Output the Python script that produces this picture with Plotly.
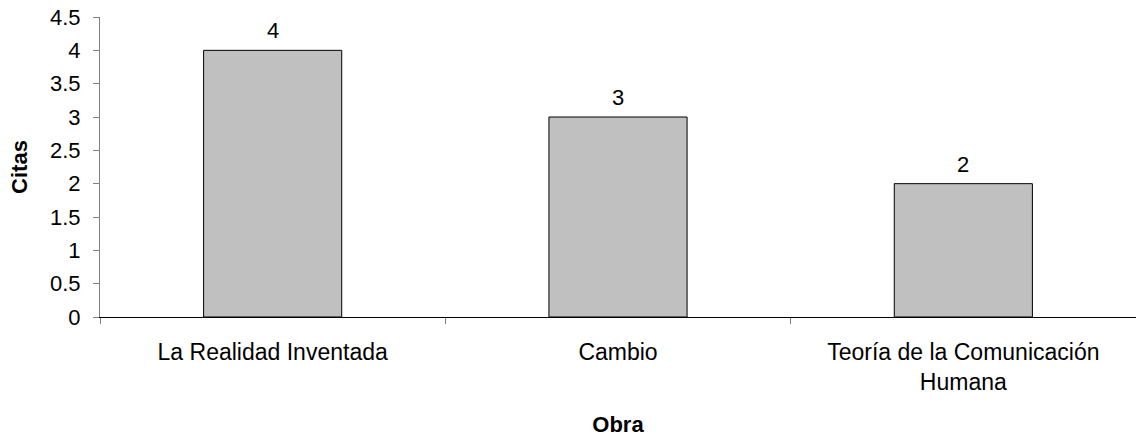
import plotly.graph_objects as go

categories = ["La Realidad Inventada", "Cambio", "Teoría de la Comunicación<br>Humana"]
values = [4, 3, 2]
y_ticks = [0, 0.5, 1, 1.5, 2, 2.5, 3, 3.5, 4, 4.5]

FONT = "Liberation Sans, Arial, sans-serif"
FS = 22

fig = go.Figure()
fig.add_trace(go.Bar(
    x=categories, y=values,
    marker=dict(color="#C0C0C0", line=dict(color="#000000", width=1)),
    width=0.4,
    hoverinfo="skip",
))

for c, v in zip(categories, values):
    fig.add_annotation(x=c, y=v, text=str(v), showarrow=False,
                       yanchor="bottom", yshift=5,
                       font=dict(family=FONT, size=FS, color="#000000"))

fig.update_layout(
    width=1136, height=437,
    margin=dict(l=100, r=0, t=17, b=120),
    paper_bgcolor="white", plot_bgcolor="white",
    showlegend=False,
    font=dict(family=FONT, size=FS, color="#000000"),
)
fig.update_xaxes(
    showline=True, linecolor="#000000", linewidth=1,
    ticks="outside", tickson="boundaries", ticklen=6, tickcolor="#808080",
    ticklabelstandoff=14, automargin=False,
    showgrid=False,
    tickfont=dict(family=FONT, size=23, color="#000000"),
    title=dict(text="<b>Obra</b>", font=dict(family=FONT, size=FS, color="#000000"), standoff=26),
)
fig.update_yaxes(
    range=[0, 4.5], tickvals=y_ticks,
    showline=True, linecolor="#808080", linewidth=1,
    ticks="outside", ticklen=6, tickcolor="#808080",
    ticklabelstandoff=8, ticklabeloverflow="allow", automargin=False,
    showgrid=False, zeroline=False,
    tickfont=dict(family=FONT, size=FS, color="#000000"),
    title=dict(text="<b>Citas</b>", font=dict(family=FONT, size=FS, color="#000000"), standoff=16),
)

fig.write_html("out.html", config={"displayModeBar": False},
               post_script="document.body.style.margin='0';")
